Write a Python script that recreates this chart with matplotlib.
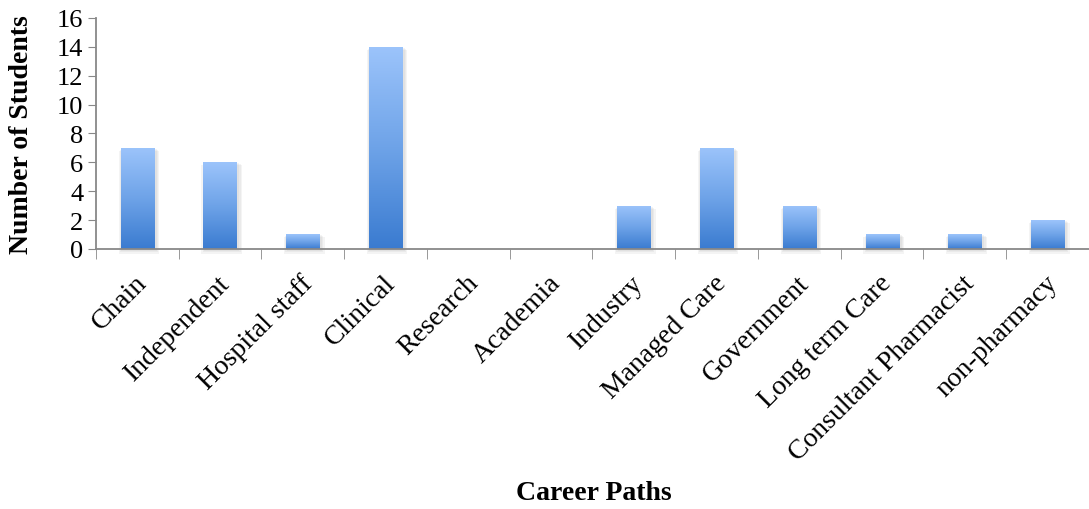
import numpy as np
import matplotlib.pyplot as plt
import matplotlib.transforms as mtrans
from matplotlib.colors import LinearSegmentedColormap

# Data
categories = ['Chain', 'Independent', 'Hospital staff', 'Clinical', 'Research',
              'Academia', 'Industry', 'Managed Care', 'Government',
              'Long term Care', 'Consultant Pharmacist', 'non-pharmacy']
students = [7, 6, 1, 14, 0, 0, 3, 7, 3, 1, 1, 2]
yticks = [0, 2, 4, 6, 8, 10, 12, 14, 16]

plt.rcParams['font.family'] = ['Liberation Serif', 'DejaVu Serif']

fig = plt.figure(figsize=(10.89, 5.10), dpi=100)
ax = fig.add_axes([0.088, 0.51, 0.912, 0.453])

x = np.arange(len(categories))
bars = ax.bar(x, students, width=0.4, color='#5f97e2', zorder=3)

# vertical gradient inside each bar (dark at bottom, light at top)
cmap = LinearSegmentedColormap.from_list('grad', ['#3a7bd0', '#6ea3e8', '#9cc4fb'])
grad = np.linspace(0, 1, 256).reshape(-1, 1)
for b in bars:
    h = b.get_height()
    if h <= 0:
        continue
    x0 = b.get_x()
    w = b.get_width()
    # soft shadow under the bar
    for k in range(3):
        grow = 0.03 * (k + 1)
        ax.bar(x0 + w / 2 + 0.02, h + 0.05 * (k + 1), width=w + grow, bottom=-0.12 * (k + 1),
               color='#999999', alpha=0.10, zorder=2, clip_on=False, linewidth=0)
    im = ax.imshow(grad, extent=[x0, x0 + w, 0, h], origin='lower', cmap=cmap,
                   aspect='auto', zorder=4)
    im.set_clip_path(b)

ax.set_xlim(-0.5, len(categories) - 0.5)
ax.set_ylim(0, 16)
ax.set_yticks(yticks)
ax.set_yticklabels([str(v) for v in yticks], fontsize=19)

# category labels, rotated like the Excel original
ax.set_xticks(x)
ax.set_xticklabels([])
ax.tick_params(axis='x', which='major', length=0)
offset = mtrans.ScaledTranslation(6 / 100, -30 / 100, fig.dpi_scale_trans)
for i, name in enumerate(categories):
    ax.text(i, 0, name, transform=ax.get_xaxis_transform() + offset,
            rotation=45, ha='right', va='center', rotation_mode='anchor', fontsize=20)

ax.set_xticks(np.arange(-0.5, len(categories), 1), minor=True)
ax.tick_params(axis='x', which='minor', length=7, color='#888888', direction='out')
ax.tick_params(axis='y', length=6, color='#888888', pad=3)

for s in ['top', 'right']:
    ax.spines[s].set_visible(False)
for s in ['left', 'bottom']:
    ax.spines[s].set_color('#888888')
    ax.spines[s].set_linewidth(1.3)
    ax.spines[s].set_zorder(5)

fig.text(0.020, 0.737, 'Number of Students', fontsize=20, fontweight='bold',
         rotation=90, ha='center', va='center')
fig.text(0.545, 0.033, 'Career Paths', fontsize=20, fontweight='bold',
         ha='center', va='center')

fig.savefig('out.png', dpi=100)
